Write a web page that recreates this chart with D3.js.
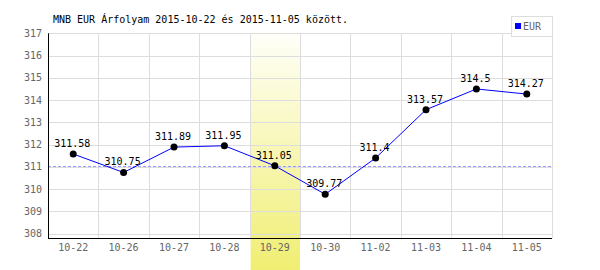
<!DOCTYPE html>
<html>
<head>
<meta charset="utf-8">
<script src="https://cdn.jsdelivr.net/npm/d3@7"></script>
<style>
body { margin: 0; background: #fff; }
text { font-family: "DejaVu Sans Mono", monospace; font-size: 10px; }
</style>
</head>
<body>
<div id="chart"></div>
<script>
var dates = ["10-22", "10-26", "10-27", "10-28", "10-29", "10-30", "11-02", "11-03", "11-04", "11-05"];
var rates = [311.58, 310.75, 311.89, 311.95, 311.05, 309.77, 311.4, 313.57, 314.5, 314.27];
var yTicks = [308, 309, 310, 311, 312, 313, 314, 315, 316, 317];
var highlightDate = "10-29";
var refValue = 311.05;
var title = "MNB EUR Árfolyam 2015-10-22 és 2015-11-05 között.";
var seriesName = "EUR";

var W = 600, H = 270;
var plotLeft = 48, plotRight = 552, plotTop = 33.3, axisY = 238;

var svg = d3.select("#chart").append("svg")
    .attr("width", W).attr("height", H);

var defs = svg.append("defs");
var grad = defs.append("linearGradient")
    .attr("id", "hl").attr("x1", 0).attr("y1", 0).attr("x2", 0).attr("y2", 1);
grad.append("stop").attr("offset", "0%").attr("stop-color", "#fffffa");
grad.append("stop").attr("offset", "100%").attr("stop-color", "#f0ee72");

var x = d3.scaleBand().domain(dates).range([plotLeft, plotRight]);
var y = d3.scaleLinear().domain([308, 317]).range([233.7, plotTop]);

// highlighted day
svg.append("rect")
    .attr("x", x(highlightDate) + 1)
    .attr("y", plotTop - 1)
    .attr("width", x.bandwidth() - 1)
    .attr("height", H - plotTop + 1)
    .attr("fill", "url(#hl)");

// grid
svg.append("g").selectAll("line").data(yTicks).enter().append("line")
    .attr("x1", plotLeft).attr("x2", plotRight)
    .attr("y1", d => Math.round(y(d)) + 0.5).attr("y2", d => Math.round(y(d)) + 0.5)
    .attr("stroke", "#dddddd");

var vLines = dates.map(d => x(d)).concat([plotRight]);
svg.append("g").selectAll("line").data(vLines).enter().append("line")
    .attr("x1", d => Math.round(d) + 0.5).attr("x2", d => Math.round(d) + 0.5)
    .attr("y1", plotTop).attr("y2", axisY)
    .attr("stroke", "#dddddd");

// reference dashed line
svg.append("line")
    .attr("x1", plotLeft).attr("x2", plotRight)
    .attr("y1", Math.round(y(refValue)) + 0.5).attr("y2", Math.round(y(refValue)) + 0.5)
    .attr("stroke", "#9999ff")
    .attr("stroke-dasharray", "3,2");

// axes lines
svg.append("line")
    .attr("x1", plotLeft + 0.5).attr("x2", plotLeft + 0.5)
    .attr("y1", plotTop).attr("y2", axisY)
    .attr("stroke", "#000");
svg.append("line")
    .attr("x1", plotLeft).attr("x2", plotRight)
    .attr("y1", axisY + 0.5).attr("y2", axisY + 0.5)
    .attr("stroke", "#000");

// y labels
svg.append("g").selectAll("text").data(yTicks).enter().append("text")
    .attr("x", 42)
    .attr("y", d => y(d) + 3.5)
    .attr("text-anchor", "end")
    .attr("fill", "#666")
    .text(d => d);

// x labels
svg.append("g").selectAll("text").data(dates).enter().append("text")
    .attr("x", d => x(d) + x.bandwidth() / 2)
    .attr("y", 251)
    .attr("text-anchor", "middle")
    .attr("fill", "#666")
    .text(d => d);

// line
var line = d3.line()
    .x((d, i) => x(dates[i]) + x.bandwidth() / 2)
    .y(d => y(d));

svg.append("path")
    .datum(rates)
    .attr("fill", "none")
    .attr("stroke", "#0000ff")
    .attr("stroke-width", 1)
    .attr("d", line);

svg.append("g").selectAll("circle").data(rates).enter().append("circle")
    .attr("cx", (d, i) => x(dates[i]) + x.bandwidth() / 2)
    .attr("cy", d => y(d))
    .attr("r", 3.5)
    .attr("fill", "#000");

svg.append("g").selectAll("text").data(rates).enter().append("text")
    .attr("x", (d, i) => x(dates[i]) + x.bandwidth() / 2 - 1)
    .attr("y", d => y(d) - 7)
    .attr("text-anchor", "middle")
    .attr("fill", "#000")
    .text(d => d);

// title
svg.append("text")
    .attr("x", 53)
    .attr("y", 23)
    .attr("fill", "#000")
    .text(title);

// legend
var lg = svg.append("g");
lg.append("rect")
    .attr("x", 511.5).attr("y", 16.5)
    .attr("width", 41).attr("height", 20)
    .attr("fill", "#fff").attr("stroke", "#dddddd");
lg.append("rect")
    .attr("x", 515).attr("y", 23)
    .attr("width", 6).attr("height", 6)
    .attr("fill", "#0000ff");
lg.append("text")
    .attr("x", 523).attr("y", 30)
    .attr("fill", "#666")
    .text(seriesName);
</script>
</body>
</html>
